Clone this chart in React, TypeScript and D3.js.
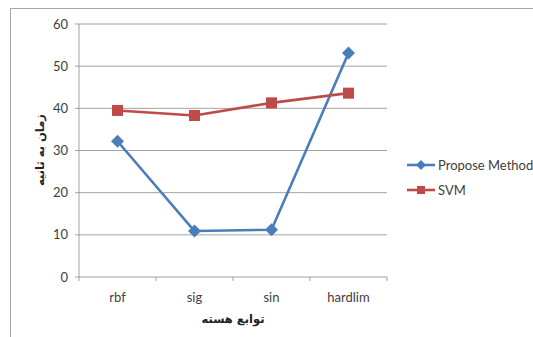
import React from "react";
import * as d3 from "d3";

const categories = ["rbf", "sig", "sin", "hardlim"];
const proposeValues = [32.2, 10.9, 11.2, 53.1];
const svmValues = [39.5, 38.3, 41.3, 43.6];
const yTicks = [0, 10, 20, 30, 40, 50, 60];
const seriesNames = ["Propose Method", "SVM"];

const W = 533;
const H = 337;
const plot = { left: 79, right: 387, top: 24, bottom: 277 };
const blue = "#4A7EBB";
const red = "#BE4B48";
const latin = "Lato, 'Open Sans', sans-serif";
const persian = "'DejaVu Sans', sans-serif";

// square rotated 45°, r = half diagonal
const diamond = (r: number) => `M0,${-r}L${r},0L0,${r}L${-r},0Z`;
const square = (s: number) => `M${-s / 2},${-s / 2}h${s}v${s}h${-s}Z`;

export default function App() {
  const x = d3.scaleBand<string>().domain(categories).range([plot.left, plot.right]);
  const y = d3.scaleLinear().domain([0, 60]).range([plot.bottom, plot.top]);
  const cx = (c: string) => (x(c) as number) + x.bandwidth() / 2;
  const line = d3
    .line<number>()
    .x((_, i) => cx(categories[i]))
    .y((d) => y(d));
  const xTicks = [...categories.map((c) => x(c) as number), plot.right];

  return (
    <svg
      width={W}
      height={H}
      style={{ position: "absolute", left: 0, top: 0, background: "#fff" }}
    >
      <rect x={10.5} y={8.5} width={560} height={400} fill="#fff" stroke="#a6a6a6" />
      {yTicks.map((t) => (
        <g key={t}>
          {t > 0 && (
            <line x1={plot.left} x2={plot.right} y1={y(t)} y2={y(t)} stroke="#8c8c8c" strokeWidth={0.8} />
          )}
          <line x1={plot.left - 4} x2={plot.left} y1={y(t)} y2={y(t)} stroke="#8c8c8c" strokeWidth={0.8} />
          <text x={plot.left - 11} y={y(t) + 4.5} textAnchor="end" fontSize={13} fontFamily={latin} fill="#404040">
            {t}
          </text>
        </g>
      ))}
      <line x1={plot.left} x2={plot.left} y1={plot.top} y2={plot.bottom} stroke="#8c8c8c" strokeWidth={0.8} />
      <line x1={plot.left} x2={plot.right} y1={plot.bottom} y2={plot.bottom} stroke="#8c8c8c" strokeWidth={0.8} />
      {xTicks.map((t, i) => (
        <line key={i} x1={t} x2={t} y1={plot.bottom} y2={plot.bottom + 4} stroke="#8c8c8c" strokeWidth={0.8} />
      ))}
      {categories.map((c) => (
        <text key={c} x={cx(c)} y={302} textAnchor="middle" fontSize={13} fontFamily={latin} fill="#404040">
          {c}
        </text>
      ))}
      <text x={233} y={323} textAnchor="middle" fontSize={11.5} fontWeight="bold" fontFamily={persian} fill="#222" direction="rtl">
        توابع هسته
      </text>
      <text
        transform={`translate(44,150) rotate(-90)`}
        textAnchor="middle"
        fontSize={11.5}
        fontWeight="bold"
        fontFamily={persian}
        fill="#222"
        direction="rtl"
      >
        زمان به ثانیه
      </text>

      <path d={line(proposeValues) as string} fill="none" stroke={blue} strokeWidth={2.6} strokeLinejoin="round" />
      {proposeValues.map((v, i) => (
        <path key={i} d={diamond(6.5)} transform={`translate(${cx(categories[i])},${y(v)})`} fill={blue} />
      ))}
      <path d={line(svmValues) as string} fill="none" stroke={red} strokeWidth={2.6} strokeLinejoin="round" />
      {svmValues.map((v, i) => (
        <path key={i} d={square(11)} transform={`translate(${cx(categories[i])},${y(v)})`} fill={red} />
      ))}

      {/* legend */}
      <g>
        <line x1={407} x2={435} y1={165} y2={165} stroke={blue} strokeWidth={2.6} />
        <path d={diamond(5)} transform="translate(421,165)" fill={blue} />
        <text x={438} y={169.5} fontSize={13} fontFamily={latin} fill="#404040">
          {seriesNames[0]}
        </text>
        <line x1={407} x2={435} y1={190} y2={190} stroke={red} strokeWidth={2.6} />
        <path d={square(8)} transform="translate(421,190)" fill={red} />
        <text x={438} y={194.5} fontSize={13} fontFamily={latin} fill="#404040">
          {seriesNames[1]}
        </text>
      </g>
    </svg>
  );
}
